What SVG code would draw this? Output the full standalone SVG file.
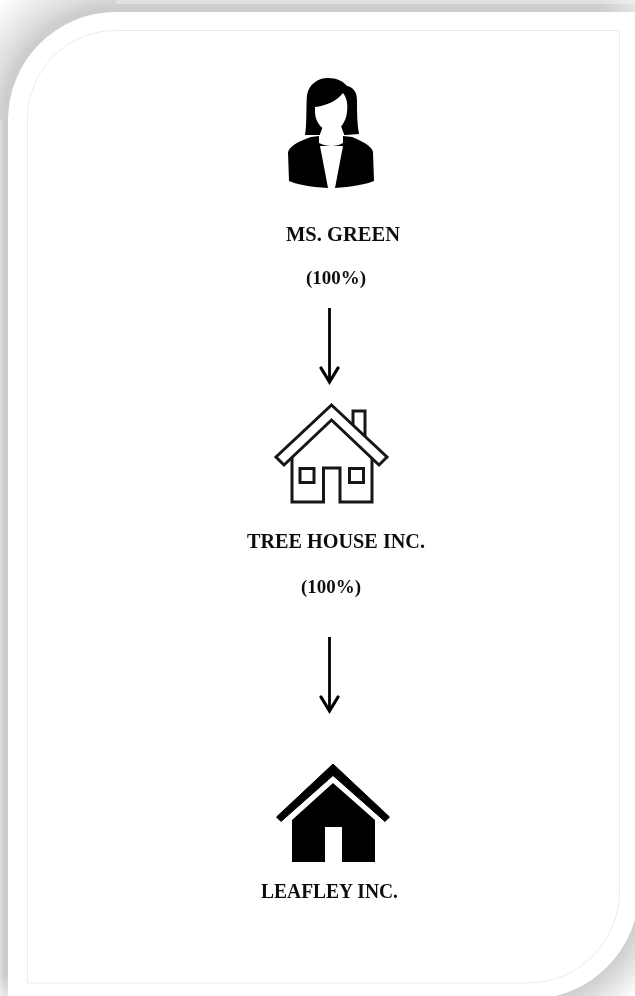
<svg xmlns="http://www.w3.org/2000/svg" width="635" height="996" viewBox="0 0 635 996">
<style>
.lbl{font-family:"Liberation Serif","Times New Roman",serif;font-weight:700;fill:#111;text-anchor:middle}
.big{font-size:20px}
.pct{font-size:18.500px}
.conn{fill:none;stroke:#000;stroke-width:2.800}
.ol{fill:#fff;stroke:#151515;stroke-width:3;stroke-linejoin:miter}
</style>
<defs>
<filter id="soft" filterUnits="userSpaceOnUse" x="0" y="0" width="635" height="996"><feGaussianBlur stdDeviation="0.4"/></filter>
<linearGradient id="t" x1="0" y1="0" x2="0" y2="13" gradientUnits="userSpaceOnUse"><stop offset="0" stop-color="#e2e2e2"/><stop offset="0.3" stop-color="#e0e0e0"/><stop offset="0.32" stop-color="#cfcfcf"/><stop offset="1" stop-color="#cdcdcd"/></linearGradient>
<linearGradient id="l" x1="0" y1="0" x2="9" y2="0" gradientUnits="userSpaceOnUse"><stop offset="0" stop-color="#dcdcdc"/><stop offset="0.28" stop-color="#d8d8d8"/><stop offset="0.32" stop-color="#cbcbcb"/><stop offset="1" stop-color="#cdcdcd"/></linearGradient>
<linearGradient id="fr" x1="600" y1="0" x2="635" y2="0" gradientUnits="userSpaceOnUse"><stop offset="0" stop-color="#fff" stop-opacity="0"/><stop offset="1" stop-color="#fff" stop-opacity="0.45"/></linearGradient>
<linearGradient id="fb" x1="0" y1="975" x2="0" y2="996" gradientUnits="userSpaceOnUse"><stop offset="0" stop-color="#fff" stop-opacity="0"/><stop offset="1" stop-color="#fff" stop-opacity="0.5"/></linearGradient>
<radialGradient id="c" gradientUnits="userSpaceOnUse" cx="116" cy="120" r="165"><stop offset="0.68" stop-color="#cdcdcd"/><stop offset="0.76" stop-color="#dedede"/><stop offset="1" stop-color="#ffffff"/></radialGradient>
<radialGradient id="br" gradientUnits="userSpaceOnUse" cx="530" cy="890" r="149"><stop offset="0.72" stop-color="#cccccc"/><stop offset="1" stop-color="#ffffff"/></radialGradient>
<marker id="ah" markerUnits="userSpaceOnUse" markerWidth="20" markerHeight="22" refX="16" refY="10" orient="auto"><path d="M2 1.500 L16 10 L2 18.500" fill="none" stroke="#000" stroke-width="3.200" stroke-linecap="round"/></marker>
</defs>
<g id="frame">
<rect width="635" height="996" fill="#fff"/>
<rect x="116" y="0" width="519" height="13" fill="url(#t)"/>
<rect x="600" y="0" width="35" height="13" fill="url(#fr)"/>
<rect x="0" y="120" width="9" height="876" fill="url(#l)"/>
<rect x="0" y="975" width="9" height="21" fill="url(#fb)"/>
<rect x="0" y="0" width="116" height="120" fill="url(#c)"/>
<rect x="530" y="890" width="105" height="106" fill="url(#br)"/>
<path fill="#fff" d="M8 120A108 108 0 0 1 116 12H639V890A109 109 0 0 1 530 999H8Z"/>
<path fill="#fff" stroke="#ebebeb" d="M27.500 118A88 88 0 0 1 115.500 30.500H619.500V891A92 92 0 0 1 527.500 983H27.500Z"/>
</g>
<g id="connectors" filter="url(#soft)">
<path class="conn" d="M329.500 308V382" marker-end="url(#ah)"/>
<path class="conn" d="M329.500 637V711" marker-end="url(#ah)"/>
</g>
<g id="ms-green" filter="url(#soft)">
<path fill="#000" d="M305 135C307 125 306 105 307 95C309 84 318 78 328 78C337 78 343 81 347 86C353 87 357 92 357 100C357 112 357 124 359 134L346 135H322Z"/>
<path fill="#fff" d="M315 107C325 106 337 101 343 93C347 98 348 105 347 112C346 123 339 131 332 131C323 131 316 124 315 113Z"/>
<path fill="#fff" d="M323 126H341L345 137H319Z"/>
<path fill="#000" d="M311 137L319 136V143C326 147 337 147 343 143V136L352 137C362 141 372 146 373 152L374 181C368 184 350 187 335 188L343 146H320L328 188C310 187 295 184 289 181L288 152C290 145 302 140 311 137Z"/>
<text class="lbl big" x="343" y="241" textLength="114" lengthAdjust="spacingAndGlyphs">MS. GREEN</text>
<text class="lbl pct" x="336" y="284" textLength="60" lengthAdjust="spacingAndGlyphs">(100%)</text>
</g>
<g id="tree-house" filter="url(#soft)">
<path class="ol" d="M353 431V411H365V440Z"/>
<path class="ol" d="M292 454V502H323.500V468H340V502H372V454L331.500 418Z"/>
<path class="ol" d="M331.500 405L387 457L379 465L331.500 420L284 465L276 457Z"/>
<rect class="ol" x="300" y="468.500" width="14" height="14"/>
<rect class="ol" x="349.500" y="468.500" width="14" height="14"/>
<text class="lbl big" x="336" y="547.500" textLength="178" lengthAdjust="spacingAndGlyphs">TREE HOUSE INC.</text>
<text class="lbl pct" x="331" y="592.500" textLength="60" lengthAdjust="spacingAndGlyphs">(100%)</text>
</g>
<g id="leafley" filter="url(#soft)">
<path fill="#000" stroke="#000" stroke-linejoin="round" d="M333 764L389.500 817L385 821.500L333 775.500L281 821.500L276.500 817Z"/>
<path fill="#000" d="M333 783L375 820V862H342V827H325V862H292V820Z"/>
<text class="lbl big" x="329.500" y="898" textLength="137" lengthAdjust="spacingAndGlyphs">LEAFLEY INC.</text>
</g>
</svg>
